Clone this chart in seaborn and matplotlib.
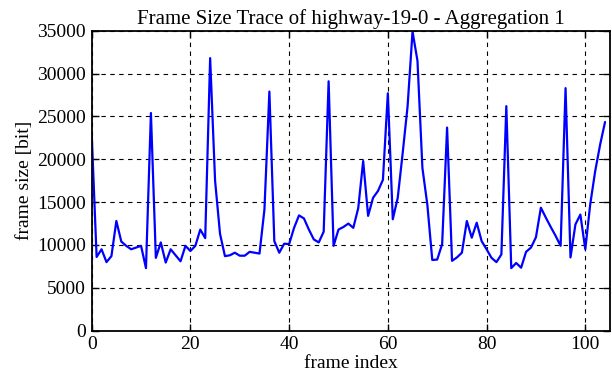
import numpy as np
import pandas as pd
import seaborn as sns
import matplotlib.pyplot as plt

# frame sizes (bits), frame index 0..104
frame_size = [
    23000, 8600, 9500, 8000, 8700, 12800, 10400, 9900, 9500, 9700,
    9900, 7300, 25400, 8500, 10300, 7950, 9500, 8800, 8100, 9900,
    9300, 9900, 11800, 10800, 31800, 17500, 11300, 8700, 8800, 9100,
    8750, 8750, 9200, 9100, 9000, 14150, 27900, 10450, 9100, 10150,
    10100, 12000, 13450, 13100, 11800, 10650, 10300, 11550, 29100, 9900,
    11800, 12100, 12500, 12000, 14300, 19800, 13400, 15500, 16300, 17600,
    27700, 13000, 15500, 20700, 26200, 34900, 31500, 19000, 14700, 8250,
    8300, 10100, 23700, 8150, 8550, 9100, 12800, 10850, 12600, 10450,
    9500, 8500, 8000, 8900, 26200, 7300, 7900, 7350, 9200, 9700,
    10900, 14350, 13200, 12100, 11050, 9900, 28300, 8550, 12400, 13550,
    9500, 14750, 18600, 21700, 24350,
]
frame_index = list(range(len(frame_size)))

df = pd.DataFrame({'frame index': frame_index, 'frame size': frame_size})

sns.set_style('ticks')
plt.rcParams['font.family'] = ['Liberation Serif', 'DejaVu Serif']
plt.rcParams['text.color'] = 'black'
plt.rcParams['axes.labelcolor'] = 'black'

fig = plt.figure(figsize=(6.12, 3.82), dpi=100)
ax = fig.add_axes([0.1498, 0.1343, 0.8469, 0.7853])

sns.lineplot(data=df, x='frame index', y='frame size', color='#0000ff',
             linewidth=1.6, ax=ax)

ax.set_xlim(0, 105)
ax.set_ylim(0, 35000)
ax.set_xticks(range(0, 101, 20))
ax.set_yticks(range(0, 35001, 5000))
ax.grid(True, color='black', linestyle=(0, (4, 4)), linewidth=0.8)
ax.tick_params(direction='in', length=5, width=1, top=True, right=True,
               labelsize=14, labelcolor='black', color='black', pad=4)
for s in ax.spines.values():
    s.set_linewidth(1.3)
    s.set_color('black')

ax.set_title('Frame Size Trace of highway-19-0 - Aggregation 1', fontsize=15,
             pad=5, color='black')
ax.set_xlabel('frame index', fontsize=14, labelpad=1)
ax.set_ylabel('frame size [bit]', fontsize=14, labelpad=3)

fig.savefig('out.png', dpi=100)
